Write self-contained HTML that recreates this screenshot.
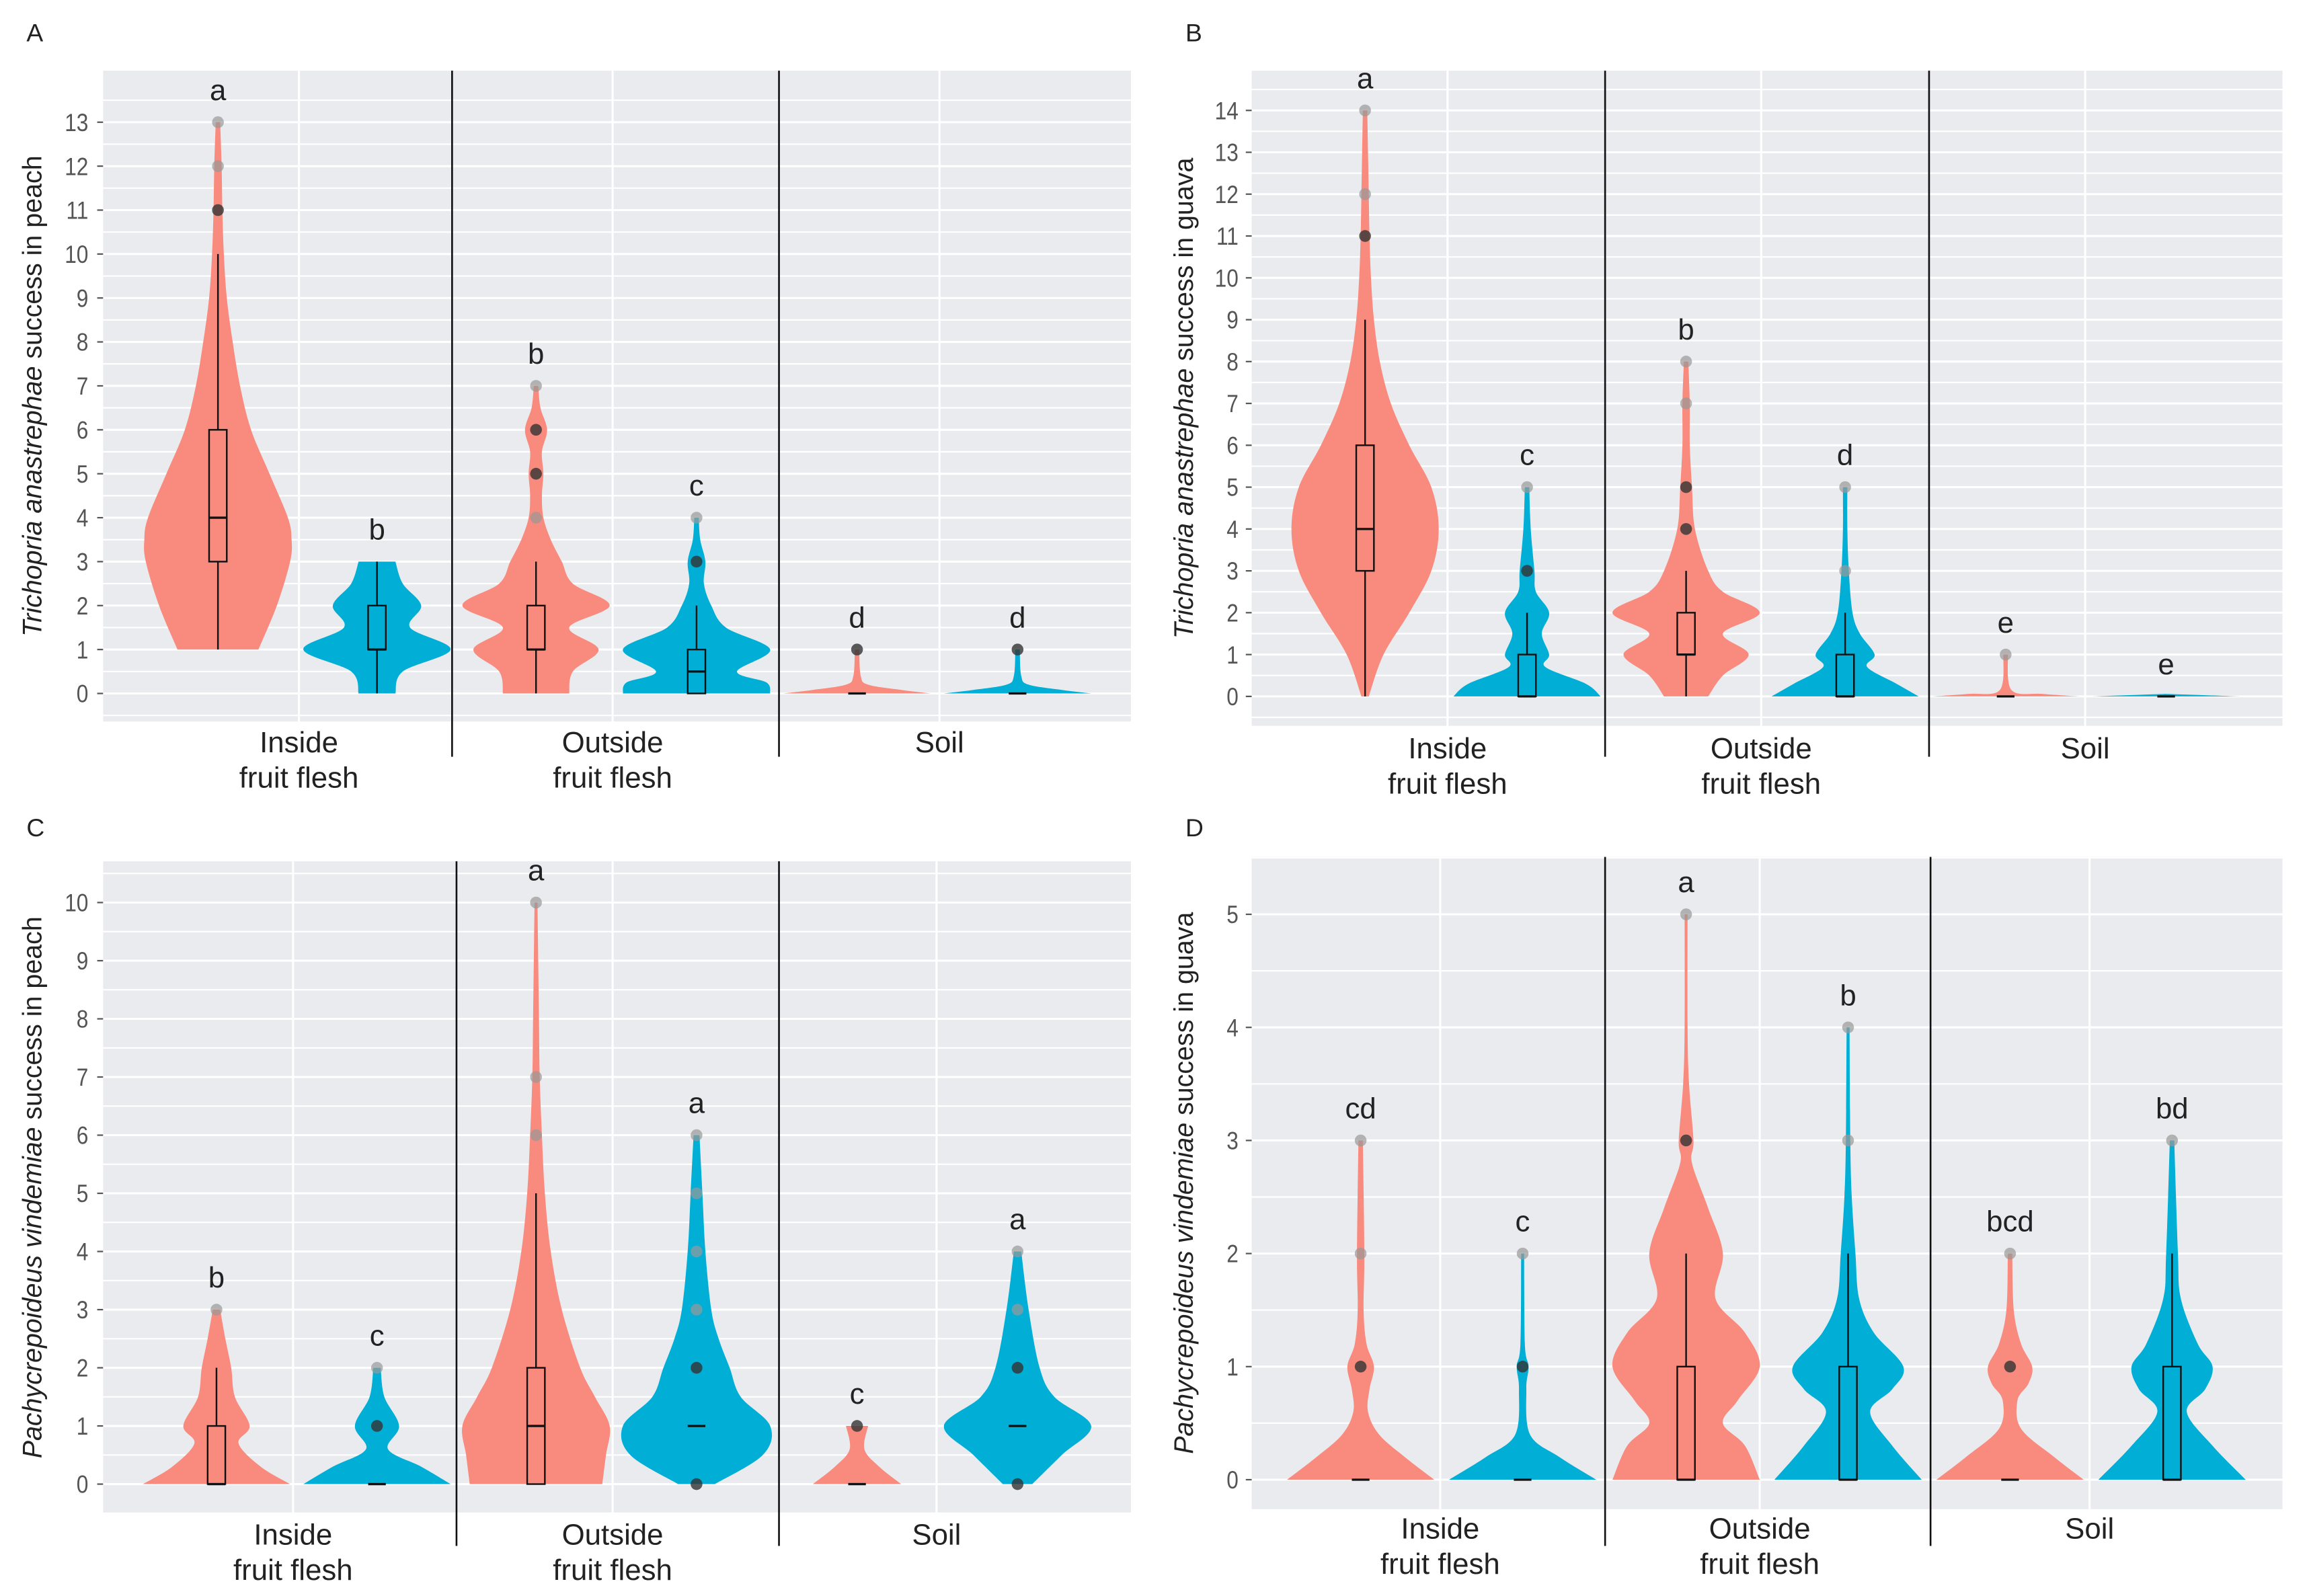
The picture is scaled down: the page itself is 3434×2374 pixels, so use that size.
<!DOCTYPE html>
<html><head><meta charset="utf-8"><style>
html,body{margin:0;padding:0;background:#fff;}
svg{display:block;font-family:"Liberation Sans",Arial,sans-serif;}
</style></head><body>
<svg id="fig" width="3434" height="2374" viewBox="0 0 1568 1084" xmlns="http://www.w3.org/2000/svg"></svg>
<script>
// ---------- data ----------
const categories = ["Inside\nfruit flesh","Outside\nfruit flesh","Soil"];
// Violin profiles: [value, relative half width]
const profA = [
 [[1,.55],[2,.8],[3,.98],[3.5,1],[4,.95],[5,.7],[6,.45],[7,.3],[8,.2],[9,.12],[10,.08],[11,.06],[12,.05],[13,.03]],
 [[0,.25],[.5,.35],[1,1],[1.5,.45],[2,.6],[2.5,.35],[3,.25]],
 [[0,.45],[.5,.5],[1,.85],[1.5,.45],[2,1],[2.5,.5],[3,.35],[3.5,.2],[4,.1],[4.5,.08],[5,.1],[5.5,.08],[6,.15],[6.5,.06],[7,.03]],
 [[0,1],[.25,.95],[.5,.55],[1,1],[1.5,.4],[2,.2],[2.5,.1],[3,.12],[3.5,.05],[4,.03]],
 [[0,1],[.08,.6],[.2,.15],[.4,.05],[1,.03]],
 [[0,1],[.08,.6],[.2,.15],[.4,.05],[1,.03]]
];
const profB = [
 [[0,.05],[1,.25],[2,.6],[3,.9],[4,1],[5,.9],[6,.6],[7,.35],[8,.2],[9,.12],[10,.08],[11,.06],[12,.05],[13,.04],[14,.03]],
 [[0,1],[.3,.8],[.7,.25],[1,.3],[1.5,.2],[2,.3],[2.5,.12],[3,.1],[4,.05],[5,.03]],
 [[0,.3],[.5,.5],[1,.85],[1.5,.5],[2,1],[2.5,.5],[3,.3],[4,.12],[5,.08],[6,.05],[7,.05],[8,.03]],
 [[0,1],[.3,.7],[.7,.3],[1,.4],[1.5,.2],[2,.1],[3,.05],[4,.03],[5,.03]],
 [[0,1],[.06,.5],[.15,.08],[1,.03]],
 [[0,1],[.03,.5],[.06,0]]
];
const profC = [
 [[0,1],[.3,.6],[.7,.3],[1,.45],[1.5,.25],[2,.2],[2.5,.12],[3,.05]],
 [[0,1],[.3,.6],[.6,.15],[1,.3],[1.5,.1],[2,.05]],
 [[0,.9],[.5,.95],[1,1],[1.5,.8],[2,.6],[3,.35],[4,.2],[5,.12],[6,.08],[7,.05],[8,.04],[9,.03],[10,.02]],
 [[0,.25],[.5,.9],[1,1],[1.5,.6],[2,.45],[2.5,.3],[3,.2],[4,.12],[5,.08],[6,.04]],
 [[0,.6],[.3,.3],[.6,.1],[1,.15]],
 [[0,.2],[.5,.6],[1,1],[1.5,.5],[2,.3],[3,.15],[4,.05]]
];
const profD = [
 [[0,1],[.2,.6],[.4,.25],[.6,.1],[.8,.12],[1,.18],[1.2,.08],[1.5,.04],[2,.05],[3,.03]],
 [[0,1],[.2,.5],[.4,.1],[.8,.05],[1,.08],[1.2,.03],[2,.02]],
 [[0,1],[.3,.8],[.5,.5],[.7,.7],[1,1],[1.3,.8],[1.6,.4],[2,.5],[2.4,.3],[2.8,.08],[3,.1],[3.5,.04],[4,.02],[5,.02]],
 [[0,1],[.3,.6],[.6,.3],[.8,.6],[1,.75],[1.3,.35],[1.6,.15],[2,.1],[2.5,.05],[3,.03],[4,.02]],
 [[0,1],[.2,.6],[.45,.15],[.7,.1],[.85,.25],[1,.3],[1.2,.15],[1.5,.05],[2,.03]],
 [[0,1],[.3,.55],[.6,.2],[.8,.45],[1,.55],[1.2,.35],[1.6,.12],[2,.08],[3,.03]]
];
// Box stats: [whiskerLow, q1, median, q3, whiskerHigh]
const boxA = [[1,3,4,6,10],[0,1,1,2,3],[0,1,1,2,3],[0,0,.5,1,2],[0,0,0,0,0],[0,0,0,0,0]];
const boxB = [[0,3,4,6,9],[0,0,0,1,2],[0,1,1,2,3],[0,0,0,1,2],[0,0,0,0,0],[0,0,0,0,0]];
const boxC = [[0,0,0,1,2],[0,0,0,0,0],[0,0,1,2,5],[1,1,1,1,1],[0,0,0,0,0],[1,1,1,1,1]];
const boxD = [[0,0,0,0,0],[0,0,0,0,0],[0,0,0,1,2],[0,0,0,1,2],[0,0,0,0,0],[0,0,0,1,2]];
// Outliers: [value, dark(1)/light(0)]
const outA = [[[11,1],[12,0],[13,0]],[],[[4,0],[5,1],[6,1],[7,0]],[[3,1],[4,0]],[[1,1]],[[1,1]]];
const outB = [[[11,1],[12,0],[14,0]],[[3,1],[5,0]],[[4,1],[5,1],[7,0],[8,0]],[[3,0],[5,0]],[[1,0]],[]];
const outC = [[[3,0]],[[1,1],[2,0]],[[6,0],[7,0],[10,0]],[[0,1],[2,1],[3,0],[4,0],[5,0],[6,0]],[[1,1]],[[0,1],[2,1],[3,0],[4,0]]];
const outD = [[[1,1],[2,0],[3,0]],[[1,1],[2,0]],[[3,1],[5,0]],[[3,0],[4,0]],[[1,1],[2,0]],[[3,0]]];
const lettersA = ["a","b","b","c","d","d"];
const lettersB = ["a","c","b","d","e","e"];
const lettersC = ["b","c","a","a","c","a"];
const lettersD = ["cd","c","a","b","bcd","bd"];
const yMaxA = 13, yMaxB = 14, yMaxC = 10, yMaxD = 5;
const titleA = ["Trichopria anastrephae"," success in peach"];
const titleB = ["Trichopria anastrephae"," success in guava"];
const titleC = ["Pachycrepoideus vindemiae"," success in peach"];
const titleD = ["Pachycrepoideus vindemiae"," success in guava"];

// ---------- layout ----------
const panels = [
 {id:"a",label:"A",lx:18,ly:28,x0:70,x1:768,y0:48,y1:490,v0:471,vTop:83,top:yMaxA,seps:[307,529],grid:[203,416,638],vx:[148,256,364,473,582,691],catY:504,sepEnd:514,titleX:28,prof:profA,box:boxA,out:outA,let:lettersA,title:titleA,tickX:60},
 {id:"b",label:"B",lx:805,ly:28,x0:850,x1:1550,y0:48,y1:493,v0:473,vTop:75,top:yMaxB,seps:[1090,1310],grid:[983,1196,1416],vx:[927,1037,1145,1253,1362,1471],catY:508,sepEnd:514,titleX:810,prof:profB,box:boxB,out:outB,let:lettersB,title:titleB,tickX:841},
 {id:"c",label:"C",lx:18,ly:568,x0:70,x1:768,y0:585,y1:1028,v0:1008,vTop:613,top:yMaxC,seps:[310,529],grid:[199,416,636],vx:[147,256,364,473,582,691],catY:1042,sepEnd:1050,titleX:28,prof:profC,box:boxC,out:outC,let:lettersC,title:titleC,tickX:60},
 {id:"d",label:"D",lx:805,ly:568,x0:850,x1:1550,y0:582,y1:1025,v0:1005,vTop:621,top:yMaxD,seps:[1090,1311],grid:[978,1195,1419],vx:[924,1034,1145,1255,1365,1475],catY:1038,sepEnd:1050,titleX:810,prof:profD,box:boxD,out:outD,let:lettersD,title:titleD,tickX:841}
];
const RED="#F98A7E", BLUE="#00AED6", HALF=50;
const NS="http://www.w3.org/2000/svg";
const svg=document.getElementById("fig");
function mk(tag,attrs,parent){const e=document.createElementNS(NS,tag);for(const k in attrs)e.setAttribute(k,attrs[k]);(parent||svg).appendChild(e);return e;}
function smoothSide(pts){ // Catmull-Rom through points
  let d="";
  for(let k=0;k<pts.length-1;k++){
    const p0=pts[Math.max(0,k-1)],p1=pts[k],p2=pts[k+1],p3=pts[Math.min(pts.length-1,k+2)];
    const c1=[p1[0]+(p2[0]-p0[0])/6,p1[1]+(p2[1]-p0[1])/6];
    const c2=[p2[0]-(p3[0]-p1[0])/6,p2[1]-(p3[1]-p1[1])/6];
    d+=` C${c1[0]},${c1[1]} ${c2[0]},${c2[1]} ${p2[0]},${p2[1]}`;
  }
  return d;
}

panels.forEach(p=>{
  const yS=v=>p.v0-(p.v0-p.vTop)*v/p.top;
  const g=mk("g",{});
  
  
  const t=mk("text",{x:p.lx,y:p.ly,"font-size":17,fill:"#222"},g);t.textContent=p.label;
  
  
  const bg=mk("rect",{x:p.x0,y:p.y0,width:p.x1-p.x0,height:p.y1-p.y0,fill:"#EAEBEE"},g);
  
  
  for(let v=-0.5;v<=p.top+1;v+=1){const y=yS(v);if(y<p.y0||y>p.y1)continue;
    const l=mk("line",{x1:p.x0,x2:p.x1,y1:y,y2:y,stroke:"#fff","stroke-width":1},g);
    
    }
  for(let v=0;v<=p.top;v++){const y=yS(v);
    const l=mk("line",{x1:p.x0,x2:p.x1,y1:y,y2:y,stroke:"#fff","stroke-width":1.4},g);
    
    
    const tk=mk("line",{x1:p.x0-4,x2:p.x0,y1:y,y2:y,stroke:"#555","stroke-width":1},g);
    
    
    const tl=mk("text",{x:p.tickX,y:y+6,"font-size":17,fill:"#555","text-anchor":"end",transform:`translate(${p.tickX},0) scale(0.85,1) translate(${-p.tickX},0)`},g);tl.textContent=v;
    
    }
  p.grid.forEach(x=>{const l=mk("line",{x1:x,x2:x,y1:p.y0,y2:p.y1,stroke:"#fff","stroke-width":1.4},g);
    
    });
  p.grid.forEach((x,i)=>{const lines=categories[i].split("\n");
    lines.forEach((s,j)=>{const tx=mk("text",{x:x,y:p.catY+j*24+7,"font-size":20,fill:"#222","text-anchor":"middle"},g);tx.textContent=s;
      
      });});
  p.seps.forEach(x=>{const l=mk("line",{x1:x,x2:x,y1:p.y0,y2:p.sepEnd,stroke:"#111","stroke-width":1.2},g);
    
    });
  const yt=mk("text",{transform:`translate(${p.titleX},${(p.y0+p.y1)/2}) rotate(-90)`,"font-size":18,fill:"#222","text-anchor":"middle"},g);
  
  
  const ts1=mk("tspan",{"font-style":"italic"},yt);ts1.textContent=p.title[0];
  const ts2=mk("tspan",{},yt);ts2.textContent=p.title[1];
  p.vx.forEach((cx,i)=>{
    const col=i%2?BLUE:RED;
    const pr=p.prof[i];
    const right=pr.map(([v,w])=>[cx+w*HALF,yS(v)]);
    const left=pr.slice().reverse().map(([v,w])=>[cx-w*HALF,yS(v)]);
    let d="M"+cx+","+right[0][1]+" L"+right[0][0]+","+right[0][1]+smoothSide(right)+
      " L"+cx+","+right[right.length-1][1]+" L"+left[0][0]+","+left[0][1]+smoothSide(left)+"Z";
    const vp=mk("path",{d:d,fill:col},g);
    
    
    const b=p.box[i];
    const wl=mk("line",{x1:cx,x2:cx,y1:yS(b[0]),y2:yS(b[4]),stroke:"#111","stroke-width":1.1},g);
    
    
    const br=mk("rect",{x:cx-6,y:yS(b[3]),width:12,height:Math.max(0,yS(b[1])-yS(b[3])),fill:col,stroke:"#111","stroke-width":1.1},g);
    
    
    const ml=mk("line",{x1:cx-6,x2:cx+6,y1:yS(b[2]),y2:yS(b[2]),stroke:"#111","stroke-width":1.5},g);
    
    
    let mx=b[4];
    p.out[i].forEach(([v,dk])=>{mx=Math.max(mx,v);
      const c=mk("circle",{cx:cx,cy:yS(v),r:4,fill:dk?"#333":"#999","fill-opacity":dk?0.8:0.7},g);
      
      });
    const lt=mk("text",{x:cx,y:yS(mx)-15,"font-size":20,fill:"#222","text-anchor":"middle"},g);lt.textContent=p.let[i];
    
    
  });
});
</script>
</body></html>
